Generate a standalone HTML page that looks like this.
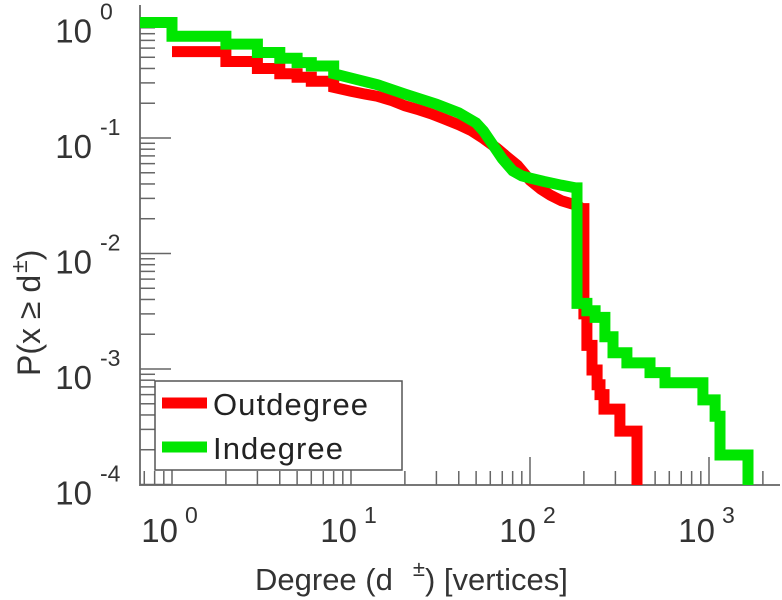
<!DOCTYPE html>
<html><head><meta charset="utf-8"><style>
html,body{margin:0;padding:0;background:#fff;}
svg{display:block;font-family:"Liberation Sans",Arial,sans-serif;}
</style></head><body>
<svg id="chart" width="782" height="600" viewBox="0 0 782 600" xmlns="http://www.w3.org/2000/svg">
<defs><clipPath id="plotclip"><rect x="140" y="0" width="640" height="485"/></clipPath></defs>
<g id="axes"></g>
<g id="series" clip-path="url(#plotclip)"></g>
<g id="legend">
  <rect x="155" y="381" width="247" height="89" fill="#fff" stroke="#555" stroke-width="1.5"/>
  <line x1="162" y1="403" x2="207" y2="403" stroke="#ff0000" stroke-width="11"/>
  <text x="213" y="415" font-size="31" fill="#222" textLength="155">Outdegree</text>
  <line x1="162" y1="447" x2="207" y2="447" stroke="#00e600" stroke-width="11"/>
  <text x="213" y="459" font-size="31" fill="#222" textLength="130">Indegree</text>
</g>
<text x="255" y="590" font-size="31" fill="#333">Degree (d<tspan dx="20" dy="-14" font-size="22">±</tspan><tspan dy="14">) [vertices]</tspan></text>
<text transform="translate(40,376) rotate(-90)" font-size="32" fill="#333">P(x ≥ d<tspan dx="2" dy="-13" font-size="23">±</tspan><tspan dy="13">)</tspan></text>
</svg>
<script>
// ---- data ----
const outDegree = [1,2,3,4,5,6,8,10,12,14,17,20,24,28,33,40,47,55,65,75,85,100,115,130,150,170,185,195,200,208,222,237,246,259,318,396];
const outP = [0.56,0.46,0.40,0.36,0.336,0.31,0.275,0.254,0.24,0.23,0.21,0.19,0.175,0.162,0.147,0.13,0.116,0.099,0.082,0.068,0.058,0.043,0.036,0.032,0.0286,0.027,0.026,0.0245,0.0030,0.0016,0.00098,0.00073,0.0006,0.00045,0.00029,0.00003];
const inDegree = [0.5,1,2,3,4,5,6,8,10,14,20,30,40,50,55,60,70,80,90,100,120,150,180,183,208,231,262,291,348,468,568,925,1081,1152,1652];
const inP = [1,0.76,0.65,0.55,0.49,0.45,0.42,0.36,0.33,0.29,0.24,0.196,0.165,0.135,0.115,0.094,0.066,0.052,0.047,0.045,0.042,0.039,0.037,0.0037,0.0032,0.0028,0.0019,0.00138,0.00113,0.00093,0.00076,0.00054,0.00039,0.00018,0.00003];
const xTickExps = [0,1,2,3];
const yTickExps = [0,-1,-2,-3,-4];

// ---- axis functions ----
const X0 = 172, XDEC = 179;
const Y0 = 22.5, YDEC = 115.5;
const AX_LEFT = 140, AX_BOTTOM = 485;
function xs(d){ return X0 + XDEC*Math.log10(d); }
function ys(p){ return Y0 - YDEC*Math.log10(p); }

const NS = "http://www.w3.org/2000/svg";
function mk(tag, attrs, parent){
  const e = document.createElementNS(NS, tag);
  for (const k in attrs) e.setAttribute(k, attrs[k]);
  parent.appendChild(e);
  return e;
}
const axes = document.getElementById('axes');
const series = document.getElementById('series');

let yAxis = mk('line',{x1:AX_LEFT,y1:5,x2:AX_LEFT,y2:AX_BOTTOM+1,stroke:'#777','stroke-width':2},axes);


let xAxis = mk('line',{x1:AX_LEFT,y1:AX_BOTTOM,x2:780,y2:AX_BOTTOM,stroke:'#777','stroke-width':2},axes);



for (let e = 0; e >= -4; e--) {
  for (let m = 1; m <= 9; m++) {
    const p = m*Math.pow(10,e);
    const y = ys(p);
    if (y < 5 || y > AX_BOTTOM + 1) continue;
    const len = m === 1 ? 31 : 15;
    const t = mk('line',{x1:AX_LEFT,y1:y,x2:AX_LEFT+len,y2:y,stroke:'#666','stroke-width':1.5},axes);
    
    
  }
}
for (let e = -1; e <= 3; e++) {
  for (let m = 1; m <= 9; m++) {
    const d = m*Math.pow(10,e);
    const x = xs(d);
    if (x < AX_LEFT || x > 772) continue;
    const len = m === 1 ? 28 : 14;
    const t = mk('line',{x1:x,y1:AX_BOTTOM,x2:x,y2:AX_BOTTOM-len,stroke:'#666','stroke-width':1.5},axes);
    
    
  }
}
yTickExps.forEach(e => {
  const y = ys(Math.pow(10,e));
  const g = mk('text',{x:92,y:y+20,'font-size':33,fill:'#333','text-anchor':'end'},axes);
  g.textContent = '10';
  
  
  const s = mk('text',{x:100,y:y-3,'font-size':23,fill:'#333'},axes);
  s.textContent = String(e);
  
  
});
xTickExps.forEach(e => {
  const x = xs(Math.pow(10,e));
  const g = mk('text',{x:x+6,y:542,'font-size':33,fill:'#333','text-anchor':'end'},axes);
  g.textContent = '10';
  
  
  const s = mk('text',{x:x+13,y:523,'font-size':23,fill:'#333'},axes);
  s.textContent = String(e);
  
  
});

// step series (dense middle range drawn as continuous line)
function stepPath(ds, ps){
  let d = 'M' + xs(ds[0]).toFixed(1) + ',' + ys(ps[0]).toFixed(1);
  for (let i = 1; i < ds.length; i++) {
    if (ds[i] > 8 && ds[i] <= 196 && ps[i] > 0.01) {
      d += ' L' + xs(ds[i]).toFixed(1) + ',' + ys(ps[i]).toFixed(1);
    } else {
      d += ' H' + xs(ds[i]).toFixed(1) + ' V' + ys(ps[i]).toFixed(1);
    }
  }
  return d;
}
const red = mk('path',{d:stepPath(outDegree,outP),fill:'none',stroke:'#ff0000','stroke-width':11,'stroke-linejoin':'miter'},series);


const green = mk('path',{d:stepPath(inDegree,inP),fill:'none',stroke:'#00e600','stroke-width':11,'stroke-linejoin':'miter'},series);


</script>
</body></html>
